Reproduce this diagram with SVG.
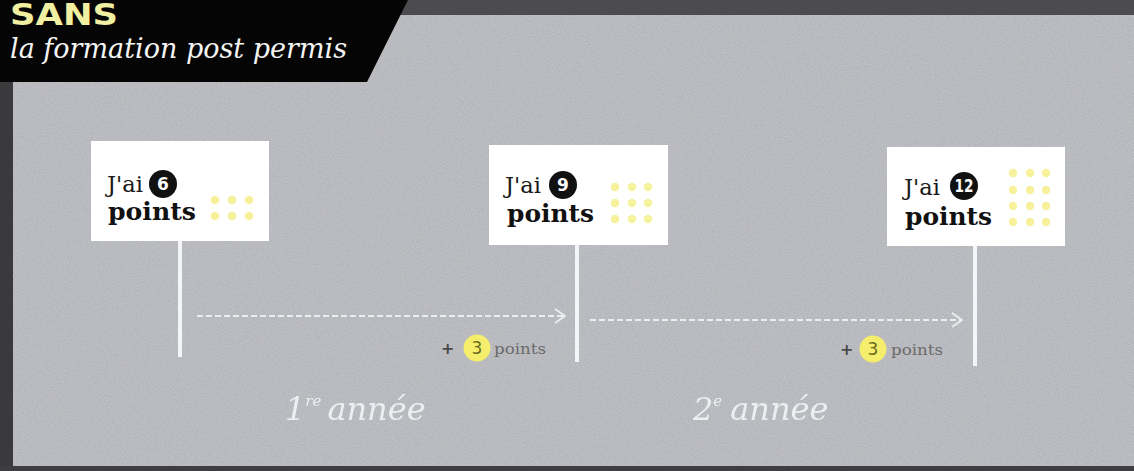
<svg xmlns="http://www.w3.org/2000/svg" width="1134" height="471" viewBox="0 0 1134 471">
  <style>
    .sign { fill: #ffffff; }
    .pole { stroke: #f4f5f8; stroke-width: 4; }
    .jai { font-family: "DejaVu Serif", "Liberation Serif", serif; font-size: 23px; fill: #1a1a1a; }
    .pts { font-family: "DejaVu Serif", "Liberation Serif", serif; font-size: 25px; font-weight: bold; fill: #111111; }
    .badge { fill: #111111; }
    .badgetxt { font-family: "DejaVu Sans", "Liberation Sans", sans-serif; font-size: 17px; font-weight: bold; fill: #ffffff; text-anchor: middle; }
    .dot { fill: #f6f19a; }
    .flow { stroke: #f2f3f6; stroke-width: 2; stroke-dasharray: 6 3; fill: none; opacity: 0.9; }
    .plus { font-family: "DejaVu Sans", "Liberation Sans", sans-serif; font-size: 16px; font-weight: bold; fill: #4a4a4a; }
    .gain { fill: #f4ee6c; }
    .gaintxt { font-family: "DejaVu Sans", "Liberation Sans", sans-serif; font-size: 17px; fill: #6b6a1e; text-anchor: middle; }
    .small { font-family: "DejaVu Serif", "Liberation Serif", serif; font-size: 14px; fill: #6a6a6a; }
    .year { font-family: "DejaVu Serif", "Liberation Serif", serif; font-style: italic; font-size: 32px; fill: #f2f3f7; opacity: 0.92; }
    .sup { font-size: 15px; }
  </style>
  <defs>
    <marker id="chev" viewBox="0 0 12 16" refX="11" refY="8" markerWidth="12" markerHeight="16" markerUnits="userSpaceOnUse" orient="auto">
      <polyline points="1,1 11,8 1,15" fill="none" stroke="#f2f3f6" stroke-width="2"/>
    </marker>
    <filter id="grain" x="0" y="0" width="100%" height="100%">
      <feTurbulence type="fractalNoise" baseFrequency="0.9" numOctaves="2" seed="3" result="n"/>
      <feColorMatrix type="matrix" values="0 0 0 0 1  0 0 0 0 1  0 0 0 0 1  0 0 0 -1.4 1.0" />
    </filter>
  </defs>

  <!-- background -->
  <g id="background">
    <rect x="0" y="0" width="1134" height="471" fill="#b4b5ba"/>
    <rect x="0" y="0" width="1134" height="471" filter="url(#grain)" opacity="0.25"/>
    <rect x="0" y="0" width="1134" height="15" fill="#4c4c4e"/>
    <rect x="0" y="0" width="13" height="471" fill="#3a3a3c"/>
    <rect x="0" y="466" width="1134" height="5" fill="#3e3e40"/>
  </g>

  <!-- header -->
  <g id="header">
    <polygon points="0,0 408,0 367,82 0,82" fill="#050505"/>
    <text x="10" y="25" font-family="DejaVu Sans, Liberation Sans, sans-serif" font-size="30" font-weight="bold" fill="#f1efa2" textLength="108" lengthAdjust="spacingAndGlyphs">SANS</text>
    <text x="10" y="58" font-family="DejaVu Serif, Liberation Serif, serif" font-style="italic" font-size="28" fill="#f4f4f4" textLength="337" lengthAdjust="spacingAndGlyphs">la formation post permis</text>
  </g>

  <!-- connectors -->
  <g id="connectors">
    <line class="flow" x1="197" y1="316" x2="565" y2="316" marker-end="url(#chev)"/>
    <line class="flow" x1="590" y1="320" x2="962" y2="320" marker-end="url(#chev)"/>
  </g>

  <!-- sign 6 -->
  <g id="sign-6">
    <line class="pole" x1="180" y1="240" x2="180" y2="357"/>
    <rect class="sign" x="91" y="141" width="178" height="100"/>
    <text class="jai" x="107" y="192" textLength="36" lengthAdjust="spacingAndGlyphs">J'ai</text>
    <circle class="badge" cx="163" cy="184" r="14"/>
    <text class="badgetxt" x="163" y="190">6</text>
    <text class="pts" x="108" y="220" textLength="88" lengthAdjust="spacingAndGlyphs">points</text>
    <circle class="dot" cx="215" cy="200" r="4.2"/>
    <circle class="dot" cx="232" cy="200" r="4.2"/>
    <circle class="dot" cx="249" cy="200" r="4.2"/>
    <circle class="dot" cx="215" cy="216" r="4.2"/>
    <circle class="dot" cx="232" cy="216" r="4.2"/>
    <circle class="dot" cx="249" cy="216" r="4.2"/>
  </g>

  <!-- sign 9 -->
  <g id="sign-9">
    <line class="pole" x1="577" y1="243" x2="577" y2="362"/>
    <rect class="sign" x="489" y="145" width="179" height="100"/>
    <text class="jai" x="505" y="193" textLength="36" lengthAdjust="spacingAndGlyphs">J'ai</text>
    <circle class="badge" cx="563" cy="185" r="14"/>
    <text class="badgetxt" x="563" y="191">9</text>
    <text class="pts" x="507" y="222" textLength="87" lengthAdjust="spacingAndGlyphs">points</text>
    <circle class="dot" cx="615" cy="187" r="4.2"/>
    <circle class="dot" cx="632" cy="187" r="4.2"/>
    <circle class="dot" cx="648" cy="187" r="4.2"/>
    <circle class="dot" cx="615" cy="203" r="4.2"/>
    <circle class="dot" cx="632" cy="203" r="4.2"/>
    <circle class="dot" cx="648" cy="203" r="4.2"/>
    <circle class="dot" cx="615" cy="219" r="4.2"/>
    <circle class="dot" cx="632" cy="219" r="4.2"/>
    <circle class="dot" cx="648" cy="219" r="4.2"/>
  </g>

  <!-- sign 12 -->
  <g id="sign-12">
    <line class="pole" x1="975" y1="243" x2="975" y2="366"/>
    <rect class="sign" x="887" y="147" width="178" height="99"/>
    <text class="jai" x="904" y="195" textLength="36" lengthAdjust="spacingAndGlyphs">J'ai</text>
    <circle class="badge" cx="964" cy="186" r="14"/>
    <text class="badgetxt" x="964" y="192" font-size="15" textLength="19" lengthAdjust="spacingAndGlyphs">12</text>
    <text class="pts" x="905" y="225" textLength="87" lengthAdjust="spacingAndGlyphs">points</text>
    <circle class="dot" cx="1013" cy="173" r="4.2"/>
    <circle class="dot" cx="1030" cy="173" r="4.2"/>
    <circle class="dot" cx="1046" cy="173" r="4.2"/>
    <circle class="dot" cx="1013" cy="190" r="4.2"/>
    <circle class="dot" cx="1030" cy="190" r="4.2"/>
    <circle class="dot" cx="1046" cy="190" r="4.2"/>
    <circle class="dot" cx="1013" cy="206" r="4.2"/>
    <circle class="dot" cx="1030" cy="206" r="4.2"/>
    <circle class="dot" cx="1046" cy="206" r="4.2"/>
    <circle class="dot" cx="1013" cy="222" r="4.2"/>
    <circle class="dot" cx="1030" cy="222" r="4.2"/>
    <circle class="dot" cx="1046" cy="222" r="4.2"/>
  </g>

  <!-- gains -->
  <g id="gain-1">
    <text class="plus" x="441" y="354">+</text>
    <circle class="gain" cx="477" cy="348" r="13.5"/>
    <text class="gaintxt" x="477" y="354">3</text>
    <text class="small" x="494" y="354" textLength="52" lengthAdjust="spacingAndGlyphs">points</text>
  </g>
  <g id="gain-2">
    <text class="plus" x="840" y="355">+</text>
    <circle class="gain" cx="873" cy="349" r="13.5"/>
    <text class="gaintxt" x="873" y="355">3</text>
    <text class="small" x="891" y="355" textLength="52" lengthAdjust="spacingAndGlyphs">points</text>
  </g>

  <!-- years -->
  <g id="year-1">
    <text class="year" x="285" y="420">1<tspan class="sup" dy="-14">re</tspan><tspan dy="14" dx="6">année</tspan></text>
  </g>
  <g id="year-2">
    <text class="year" x="693" y="420">2<tspan class="sup" dy="-14">e</tspan><tspan dy="14" dx="8">année</tspan></text>
  </g>
</svg>
